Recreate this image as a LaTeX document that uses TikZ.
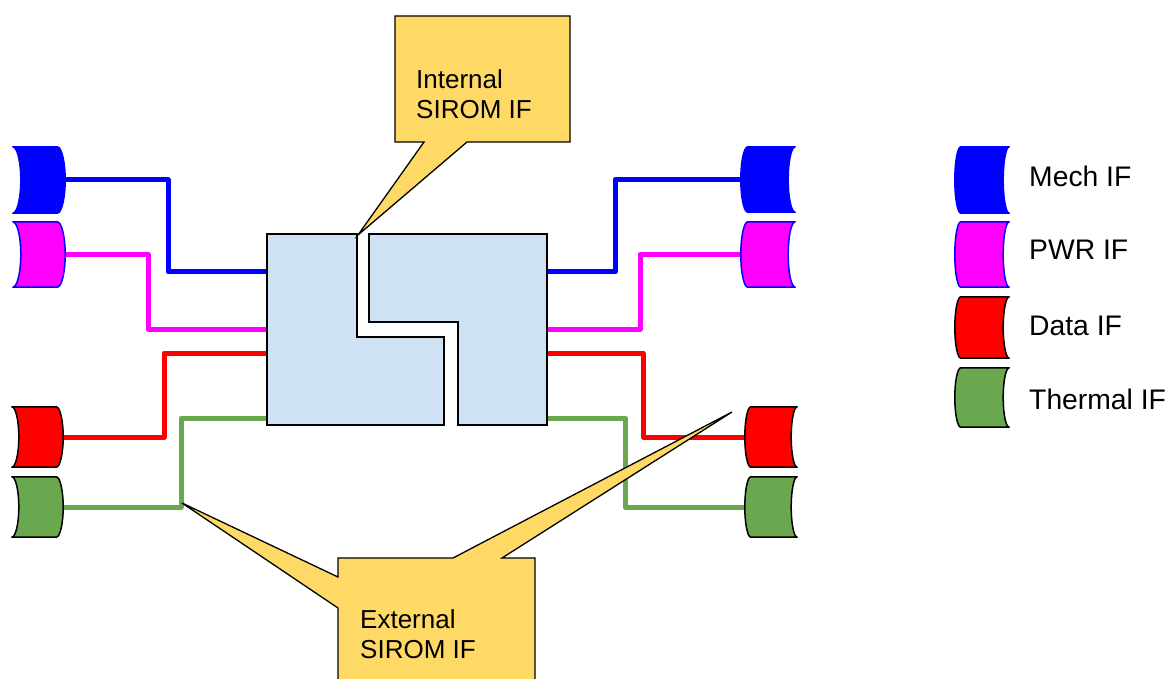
\documentclass[tikz,border=0pt]{standalone}
\usepackage{fontspec}
\setmainfont{Liberation Sans}
\definecolor{cblue}{HTML}{0000FF}
\definecolor{cmag}{HTML}{FF00FF}
\definecolor{cred}{HTML}{FF0000}
\definecolor{cgreen}{HTML}{6AA84F}
\definecolor{cblock}{HTML}{CFE2F3}
\definecolor{cyel}{HTML}{FFD966}
\tikzset{
  plug/.style={rectangle, draw=none, inner sep=0pt},
  plugline/.style={line width=1.5pt, line join=round},
  wire/.style={line width=5pt, line join=round},
  blockpart/.style={draw=black, fill=cblock, line width=1.8pt, line join=miter},
  callout/.style={draw=black, fill=cyel, line width=1.3pt, line join=miter},
  callouttext/.style={inner sep=0pt, align=left, anchor=north west, font=\fontsize{26}{29.5}\selectfont},
  legendtext/.style={inner sep=0pt, anchor=base west, font=\fontsize{28.3}{32}\selectfont}
}
% left-type plug: both vertical edges bulge to the right
\newcommand\plugL[5]{%
  \draw[plugline, draw=#3, fill=#2]
    (#1.north west) -- (#1.north east)
    .. controls +({0.55*#4},0) and +(0,-#5) .. ([xshift=#4pt]#1.east)
    .. controls +(0,#5) and +({0.55*#4},0) .. (#1.south east)
    -- (#1.south west)
    .. controls +({0.55*#4},0) and +(0,#5) .. ([xshift=#4pt]#1.west)
    .. controls +(0,-#5) and +({0.55*#4},0) .. (#1.north west) -- cycle;}
% right-type plug: both vertical edges bulge to the left
\newcommand\plugR[5]{%
  \draw[plugline, draw=#3, fill=#2]
    (#1.north west) -- (#1.north east)
    .. controls +({-0.55*#4},0) and +(0,-#5) .. ([xshift=-#4pt]#1.east)
    .. controls +(0,#5) and +({-0.55*#4},0) .. (#1.south east)
    -- (#1.south west)
    .. controls +({-0.55*#4},0) and +(0,#5) .. ([xshift=-#4pt]#1.west)
    .. controls +(0,-#5) and +({-0.55*#4},0) .. (#1.north west) -- cycle;}
\begin{document}
\begin{tikzpicture}[x=1pt,y=-1pt]
\useasboundingbox (0,0) rectangle (1173,679);
% plug placeholder nodes
\node[plug, minimum width=44pt, minimum height=66pt] (lb) at (35,180) {};
\node[plug, minimum width=44pt, minimum height=65pt] (lp) at (35,254.5) {};
\node[plug, minimum width=44pt, minimum height=60pt] (lr) at (34,437) {};
\node[plug, minimum width=44pt, minimum height=60pt] (lg) at (34,507) {};
\node[plug, minimum width=47pt, minimum height=65pt] (rb) at (771.5,179.5) {};
\node[plug, minimum width=47pt, minimum height=65pt] (rp) at (771.5,254.5) {};
\node[plug, minimum width=46pt, minimum height=60pt] (rr) at (774,437) {};
\node[plug, minimum width=46pt, minimum height=60pt] (rg) at (774,507) {};
\node[plug, minimum width=48pt, minimum height=66pt] (kb) at (985,180) {};
\node[plug, minimum width=48pt, minimum height=65pt] (kp) at (985,254.5) {};
\node[plug, minimum width=48pt, minimum height=61pt] (kr) at (985,327.5) {};
\node[plug, minimum width=48pt, minimum height=59pt] (kg) at (985,397.5) {};
% block outline node
\node[plug, minimum width=280pt, minimum height=191pt] (blk) at (407,329.5) {};
% wires
\draw[wire, cblue]  (lb.east) -| (168,272) -- (blk.west |- 0,272);
\draw[wire, cmag]   (lp.east) -| (148,329) -- (blk.west |- 0,329);
\draw[wire, cred]   (lr.east) -| (164,353) -- (blk.west |- 0,353);
\draw[wire, cgreen] (lg.east) -| (181,418) -- (blk.west |- 0,418);
\draw[wire, cblue]  (rb.west) -| (615,272) -- (blk.east |- 0,272);
\draw[wire, cmag]   (rp.west) -| (640,329) -- (blk.east |- 0,329);
\draw[wire, cred]   (rr.west) -| (643,353) -- (blk.east |- 0,353);
\draw[wire, cgreen] (rg.west) -| (625,418) -- (blk.east |- 0,418);
% block
\draw[blockpart] (267,234) -- (357,234) -- (357,337) -- (444,337) -- (444,425) -- (267,425) -- cycle;
\draw[blockpart] (369,234) -- (547,234) -- (547,425) -- (458,425) -- (458,322) -- (369,322) -- cycle;
% plugs
\plugL{lb}{cblue}{cblue}{8}{18}
\plugL{lp}{cmag}{cblue}{8}{18}
\plugL{lr}{cred}{black}{7}{16.5}
\plugL{lg}{cgreen}{black}{7}{16.5}
\plugR{rb}{cblue}{cblue}{7}{18}
\plugR{rp}{cmag}{cblue}{7}{18}
\plugR{rr}{cred}{black}{6}{16.5}
\plugR{rg}{cgreen}{black}{6}{16.5}
\plugR{kb}{cblue}{cblue}{6}{18}
\plugR{kp}{cmag}{cblue}{6}{18}
\plugR{kr}{cred}{black}{6}{16.5}
\plugR{kg}{cgreen}{black}{6}{16.5}
% legend
\node[legendtext] (tb) at (1029,187) {Mech IF};
\node[legendtext] (tp) at (1029,260) {PWR IF};
\node[legendtext] (tr) at (1029,335) {Data IF};
\node[legendtext] (tg) at (1029,409) {Thermal IF};
% callouts
\draw[callout] (395,16) -- (570,16) -- (570,142) -- (467,142) -- (358,235) -- (424,142) -- (395,142) -- cycle;
\node[callouttext] (ict) at (416,69.5) {Internal\\SIROM IF};
\draw[callout] (338,558) -- (453,558) -- (732,412) -- (502,558) -- (535,558) -- (535,690) -- (338,690) -- (338,608) -- (182,503) -- (338,577) -- cycle;
\node[callouttext] (ect) at (360,609.5) {External\\SIROM IF};
\end{tikzpicture}
\end{document}
